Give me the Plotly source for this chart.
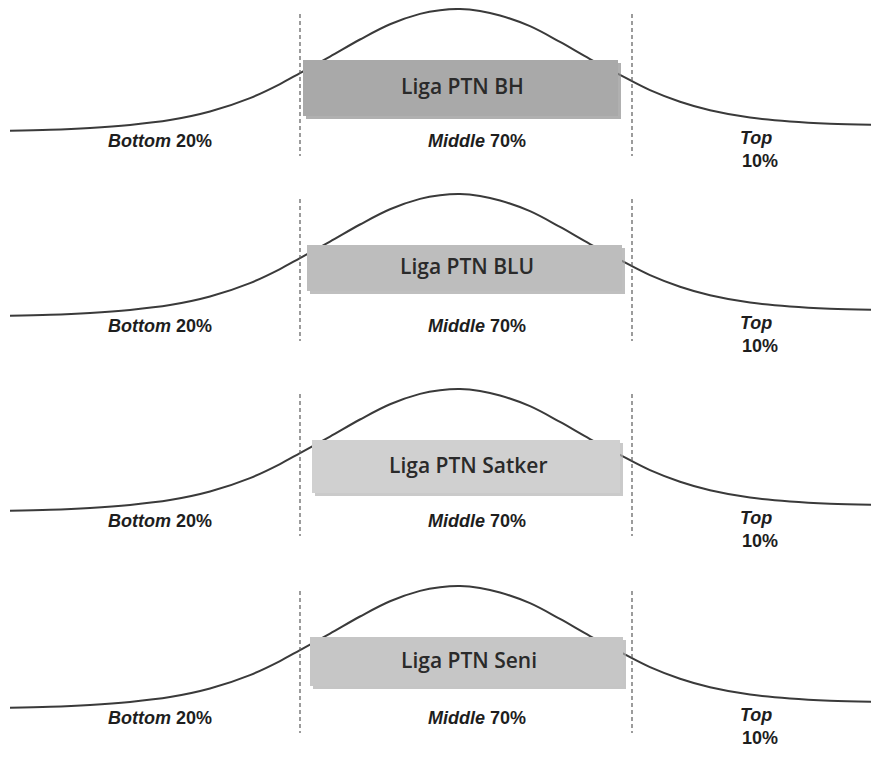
import plotly.graph_objects as go

PAGE_W, PAGE_H = 879, 759
PAD = 8  # default page margin around the plot div
W, H = PAGE_W - PAD, PAGE_H - PAD

# ---- data ----
panel_titles = ["Liga PTN BH", "Liga PTN BLU", "Liga PTN Satker", "Liga PTN Seni"]
segment_labels = ["<b><i>Bottom</i> 20%</b>", "<b><i>Middle</i> 70%</b>", "<b><i>Top</i></b>", "<b>10%</b>"]
cut_points = [300, 632]  # positions of the dashed separators on the score axis

# bell-curve profile (score axis in px units, relative density 0-100)
curve_x = [10, 50, 90, 130, 170, 210, 250, 280, 300, 330, 360, 390, 420, 440, 460,
           480, 500, 530, 560, 590, 620, 650, 680, 710, 750, 790, 830, 879]
curve_density = [0.3, 1.0, 2.5, 5.0, 9.0, 16.0, 27.0, 38.5, 47.5, 61.0, 75.0, 87.5, 96.0, 99.0, 100,
                 98.4, 94.7, 85.9, 73.0, 59.0, 46.0, 33.5, 24.0, 17.0, 11.0, 7.8, 6.0, 5.0]

# ---- layout (page-pixel positions of each panel) ----
panel_offset = [0, 185, 380, 577]
box_x = [(303, 618), (307, 622), (312, 620), (310, 623)]
box_y = [(60, 116), (245, 291), (440, 493), (637, 686)]
box_fill = ["#a9a9a9", "#bdbdbd", "#d0d0d0", "#c6c6c6"]
shadow_fill = ["#8e8e8e", "#a4a4a4", "#b4b4b4", "#acacac"]


def py(p):
    """page pixel row -> paper fraction"""
    return 1 - (p - PAD) / H


fig = go.Figure()
shapes, annotations = [], []

for i, title in enumerate(panel_titles):
    off = panel_offset[i]
    base_px, peak_px = 131 + off, 9 + off
    span = base_px - peak_px
    v_top = (base_px - PAD) / span * 100
    v_bot = (base_px - PAGE_H) / span * 100
    yname = "y" if i == 0 else f"y{i+1}"
    axkey = "yaxis" if i == 0 else f"yaxis{i+1}"
    fig.add_trace(go.Scatter(
        x=curve_x, y=curve_density, mode="lines", yaxis=yname,
        line=dict(color="#3a3a3a", width=2, shape="spline", smoothing=1.0),
        hoverinfo="skip", showlegend=False))
    ax = dict(range=[v_bot, v_top], visible=False, fixedrange=True)
    if i > 0:
        ax["overlaying"] = "y"
    fig.update_layout(**{axkey: ax})

    # dashed separators
    for cx in cut_points:
        shapes.append(dict(type="line", xref="x", yref="paper", x0=cx, x1=cx,
                           y0=py(14 + off), y1=py(156 + off),
                           line=dict(color="#5a5a5a", width=1.2, dash="4px,3px"), layer="above"))
    # box shadow + box
    x0, x1 = box_x[i]
    y0, y1 = box_y[i]
    shapes.append(dict(type="rect", xref="x", yref="paper", x0=x0 + 3, x1=x1 + 3,
                       y0=py(y1 + 3), y1=py(y0 + 3), fillcolor=shadow_fill[i], opacity=0.7,
                       line=dict(width=0), layer="above"))
    shapes.append(dict(type="rect", xref="x", yref="paper", x0=x0, x1=x1,
                       y0=py(y1), y1=py(y0), fillcolor=box_fill[i],
                       line=dict(width=0), layer="above"))
    annotations.append(dict(xref="x", yref="paper", x=(x0 + x1) / 2 + 2, y=py((y0 + y1) / 2 - 2),
                            text=title, showarrow=False, xanchor="center", yanchor="middle",
                            font=dict(family="Open Sans", size=21, color="#2a2a2a", weight=600)))
    lab_font = dict(family="Liberation Sans, Arial", size=18, color="#1e1e1e")
    annotations.append(dict(xref="x", yref="paper", x=160, y=py(141 + off), text=segment_labels[0],
                            showarrow=False, xanchor="center", yanchor="middle", font=lab_font))
    annotations.append(dict(xref="x", yref="paper", x=477, y=py(141 + off), text=segment_labels[1],
                            showarrow=False, xanchor="center", yanchor="middle", font=lab_font))
    annotations.append(dict(xref="x", yref="paper", x=756, y=py(138 + off), text=segment_labels[2],
                            showarrow=False, xanchor="center", yanchor="middle", font=lab_font))
    annotations.append(dict(xref="x", yref="paper", x=760, y=py(161 + off), text=segment_labels[3],
                            showarrow=False, xanchor="center", yanchor="middle", font=lab_font))

fig.update_layout(
    width=W, height=H,
    margin=dict(l=0, r=0, t=0, b=0),
    paper_bgcolor="white", plot_bgcolor="white",
    xaxis=dict(range=[PAD, PAGE_W], visible=False, fixedrange=True),
    shapes=shapes, annotations=annotations,
    showlegend=False,
)

fig.write_html("out.html")
